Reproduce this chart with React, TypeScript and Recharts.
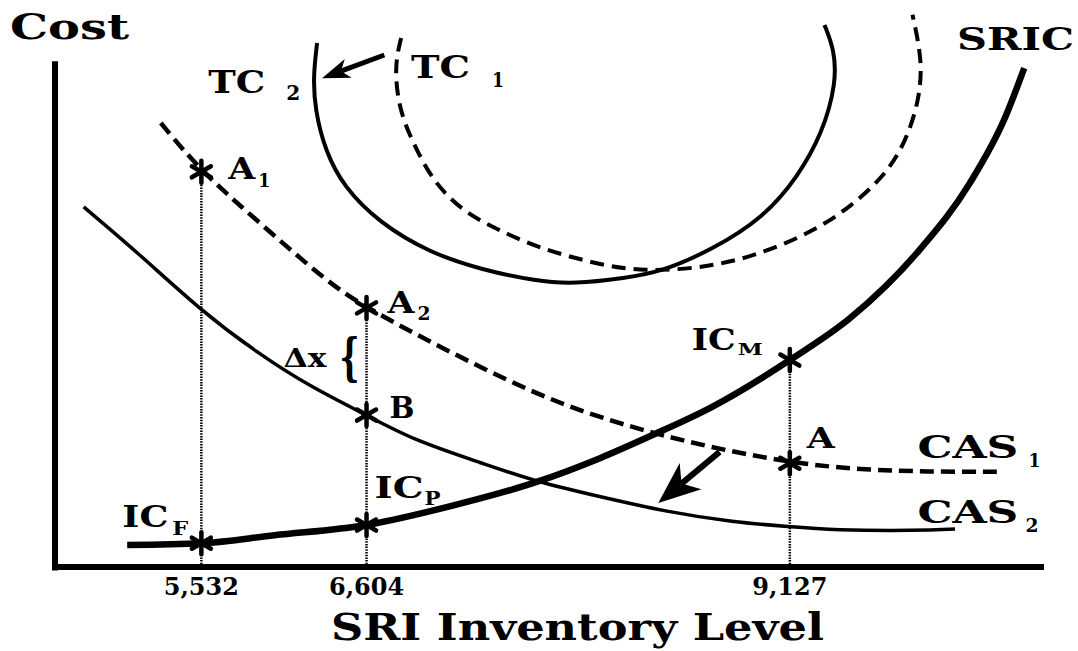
import React from 'react';
import { ComposedChart, Line, XAxis, YAxis, ReferenceLine, ReferenceDot } from 'recharts';

const FONT = '"DejaVu Serif", "Liberation Serif", serif';

// schematic units: x = SRI inventory level (0-100), y = cost (0-100)
const sric = [[7.3, 3.9], [14.8, 4.2], [22.2, 5.6], [31.5, 7.4], [39.7, 10.6], [48.7, 15.0], [55.1, 19.2], [60.2, 23.1], [66.4, 28.2], [74.3, 36.5], [80.4, 43.9], [87.4, 55.9], [92.5, 67.7], [96.1, 79.4], [98.0, 88.0]];
const cas1 = [[10.7, 78.3], [14.8, 69.7], [20.7, 60.7], [27.5, 50.3], [31.5, 45.7], [38.9, 38.8], [48.3, 30.7], [55.1, 26.3], [63.5, 22.1], [74.3, 18.3], [82.1, 17.1], [88.8, 16.8], [95.6, 16.8]];
const cas2 = [[2.9, 63.5], [8.4, 55.4], [14.7, 45.3], [20.5, 37.7], [25.8, 31.8], [31.5, 26.8], [36.2, 22.4], [43.2, 18.3], [48.7, 15.0], [55.1, 12.4], [61.9, 9.7], [68.6, 7.9], [74.3, 7.1], [78.7, 6.5], [87.2, 6.4], [91.0, 6.7]];
const tc2 = [[26.5, 92.4], [26.1, 86.4], [26.3, 80.6], [27.3, 73.5], [29.2, 67.0], [32.8, 60.7], [37.9, 55.4], [43.2, 52.4], [48.7, 50.4], [52.5, 49.9], [57.7, 51.0], [61.2, 52.0], [66.4, 55.9], [71.7, 61.7], [75.1, 68.8], [77.6, 76.5], [79.0, 85.4], [78.8, 91.2], [77.8, 95.6]];
const tc1 = [[35.0, 93.3], [34.3, 88.2], [34.8, 80.6], [36.2, 74.8], [38.3, 67.7], [41.5, 62.4], [44.9, 59.4], [48.7, 56.4], [54.3, 53.6], [59.5, 52.0], [66.4, 52.9], [71.7, 55.4], [76.9, 59.4], [80.4, 63.5], [83.8, 68.8], [86.0, 74.8], [87.4, 82.4], [87.7, 89.4], [86.7, 97.4]];

const levels = [14.8, 31.5, 74.3];
const levelLabels = ['5,532', '6,604', '9,127'];
const levelTops = [69.7, 45.7, 36.5];

const starNames = ['A', 'A', 'B', 'IC', 'IC', 'IC', 'A'];
const starSubs = ['1', '2', '', 'F', 'P', 'M', ''];
const starX = [14.8, 31.5, 31.5, 14.8, 31.5, 74.3, 74.3];
const starY = [69.7, 45.7, 26.8, 4.2, 7.4, 36.5, 18.3];

const curveNames = ['TC', 'TC', 'SRIC', 'CAS', 'CAS'];
const curveSubs = ['2', '1', '', '1', '2'];
const curveLabelX = [15.5, 36.0, 91.2, 87.2, 87.2];
const curveLabelY = [83.6, 86.2, 91.2, 19.2, 7.8];

const pts = (a: number[][]) => a.map(([x, y]) => ({ x, y }));

// text placement relative to each star (px): main text offset/width, subscript offset/width
const starText = [
  { mx: 27, my: 7, mw: 27, size: 30, sx: 57, sy: 15, sw: 12, sub: 18 },
  { mx: 21, my: 5, mw: 27, size: 30, sx: 51, sy: 12, sw: 13, sub: 18 },
  { mx: 23, my: 3, mw: 25, size: 29, sx: 0, sy: 0, sw: 0, sub: 0 },
  { mx: -79, my: -16, mw: 46, size: 29, sx: -29, sy: -8, sw: 16, sub: 19 },
  { mx: 8, my: -27, mw: 49, size: 29, sx: 58, sy: -20, sw: 16, sub: 19 },
  { mx: -98, my: -10, mw: 44, size: 29, sx: -52, sy: -5, sw: 25, sub: 17 },
  { mx: 17, my: -15, mw: 28, size: 28, sx: 0, sy: 0, sw: 0, sub: 0 },
];
const curveText = [
  { mw: 57, size: 32, sx: 78, sy: 7, sw: 14, sub: 20 },
  { mw: 59, size: 32, sx: 81, sy: 9, sw: 12, sub: 20 },
  { mw: 117, size: 32, sx: 0, sy: 0, sw: 0, sub: 0 },
  { mw: 101, size: 32, sx: 111, sy: 9, sw: 12, sub: 19 },
  { mw: 101, size: 32, sx: 108, sy: 9, sw: 13, sub: 19 },
];

function Star({ cx, cy }: any) {
  const r = 11;
  return (
    <g stroke="#000" strokeWidth={4.5} strokeLinecap="round">
      {[90, 30, 150].map((a) => {
        const t = (a * Math.PI) / 180;
        const dx = r * Math.cos(t);
        const dy = r * Math.sin(t);
        return <line key={a} x1={cx - dx} y1={cy - dy} x2={cx + dx} y2={cy + dy} />;
      })}
    </g>
  );
}

function Word({ x, y, text, size, width, weight = 'bold' }: any) {
  return (
    <text
      x={x}
      y={y}
      fontFamily={FONT}
      fontWeight={weight}
      fontSize={size}
      fill="#000"
      textLength={width || undefined}
      lengthAdjust="spacingAndGlyphs"
    >
      {text}
    </text>
  );
}

function Arrow({ x1, y1, x2, y2, head, half, width }: any) {
  const ang = Math.atan2(y2 - y1, x2 - x1);
  const ux = Math.cos(ang);
  const uy = Math.sin(ang);
  const nx = -uy;
  const ny = ux;
  const bx = x2 - ux * head;
  const by = y2 - uy * head;
  const kx = x2 - ux * head * 0.72;
  const ky = y2 - uy * head * 0.72;
  return (
    <g>
      <line x1={x1} y1={y1} x2={kx} y2={ky} stroke="#000" strokeWidth={width} />
      <polygon
        points={`${x2},${y2} ${bx + nx * half},${by + ny * half} ${kx},${ky} ${bx - nx * half},${by - ny * half}`}
        fill="#000"
      />
    </g>
  );
}

export default function App() {
  return (
    <div style={{ position: 'absolute', left: 0, top: 0, width: 1078, height: 651, background: '#fff' }}>
      <ComposedChart width={1078} height={651} margin={{ top: 0, right: 34, bottom: 0, left: 55 }}>
        <XAxis
          type="number"
          dataKey="x"
          domain={[0, 100]}
          allowDataOverflow
          ticks={levels}
          interval={0}
          tickFormatter={(v: number) => levelLabels[levels.indexOf(v)]}
          tickLine={false}
          tickMargin={5}
          height={84}
          axisLine={{ stroke: '#000', strokeWidth: 6 }}
          tick={{ fill: '#000', fontSize: 24, fontWeight: 'bold', fontFamily: FONT }}
        />
        <YAxis type="number" domain={[0, 100]} allowDataOverflow hide width={0} />

        {/* y axis line, shorter than the plot */}
        <ReferenceLine segment={[{ x: 0, y: -0.6 }, { x: 0, y: 89.2 }]} stroke="#000" strokeWidth={6} ifOverflow="visible" />

        {levels.map((lv, i) => (
          <ReferenceLine
            key={lv}
            segment={[{ x: lv, y: 0 }, { x: lv, y: levelTops[i] }]}
            stroke="#000"
            strokeWidth={2.5}
            strokeDasharray="1.5 1.2"
          />
        ))}

        <Line data={pts(tc2)} dataKey="y" type="basis" stroke="#000" strokeWidth={4} dot={false} isAnimationActive={false} />
        <Line data={pts(tc1)} dataKey="y" type="basis" stroke="#000" strokeWidth={4} strokeDasharray="14 8" dot={false} isAnimationActive={false} />
        <Line data={pts(cas1)} dataKey="y" type="basis" stroke="#000" strokeWidth={4.5} strokeDasharray="14 7" dot={false} isAnimationActive={false} />
        <Line data={pts(cas2)} dataKey="y" type="basis" stroke="#000" strokeWidth={3.5} dot={false} isAnimationActive={false} />
        <Line data={pts(sric)} dataKey="y" type="monotone" stroke="#000" strokeWidth={6.5} dot={false} isAnimationActive={false} />

        <ReferenceLine
          segment={[{ x: 33.3, y: 90.3 }, { x: 27.0, y: 86.2 }]}
          ifOverflow="visible"
          shape={(p: any) => <Arrow {...p} head={28} half={10} width={5} />}
        />
        <ReferenceLine
          segment={[{ x: 67.2, y: 20.3 }, { x: 61.0, y: 11.3 }]}
          ifOverflow="visible"
          shape={(p: any) => <Arrow {...p} head={42} half={17} width={6} />}
        />

        {starX.map((x, i) => {
          const t = starText[i];
          return (
            <ReferenceDot
              key={'s' + i}
              x={x}
              y={starY[i]}
              ifOverflow="visible"
              shape={(p: any) => (
                <g>
                  <Star cx={p.cx} cy={p.cy} />
                  <Word x={p.cx + t.mx} y={p.cy + t.my} text={starNames[i]} size={t.size} width={t.mw} />
                  {starSubs[i] ? (
                    <Word x={p.cx + t.sx} y={p.cy + t.sy} text={starSubs[i]} size={t.sub} width={t.sw} />
                  ) : null}
                </g>
              )}
            />
          );
        })}

        {curveNames.map((n, i) => {
          const t = curveText[i];
          return (
            <ReferenceDot
              key={'c' + i}
              x={curveLabelX[i]}
              y={curveLabelY[i]}
              ifOverflow="visible"
              shape={(p: any) => (
                <g>
                  <Word x={p.cx} y={p.cy} text={n} size={t.size} width={t.mw} />
                  {curveSubs[i] ? <Word x={p.cx + t.sx} y={p.cy + t.sy} text={curveSubs[i]} size={t.sub} width={t.sw} /> : null}
                </g>
              )}
            />
          );
        })}

        {/* delta x brace between A2 and B */}
        <ReferenceDot
          x={31.5}
          y={36.25}
          ifOverflow="visible"
          shape={(p: any) => (
            <g>
              <Word x={p.cx - 83} y={p.cy + 5.5} text="Δx" size={26} width={43} />
              <Word x={p.cx - 27} y={p.cy + 12.5} text="{" size={50} width={20} />
            </g>
          )}
        />

        {/* axis titles */}
        <ReferenceDot
          x={-4.55}
          y={93.1}
          ifOverflow="visible"
          shape={(p: any) => <Word x={p.cx} y={p.cy} text="Cost" size={36} width={119} />}
        />
        <ReferenceDot
          x={27.9}
          y={-12.9}
          ifOverflow="visible"
          shape={(p: any) => <Word x={p.cx} y={p.cy} text="SRI Inventory Level" size={38} width={493} />}
        />
      </ComposedChart>
    </div>
  );
}
